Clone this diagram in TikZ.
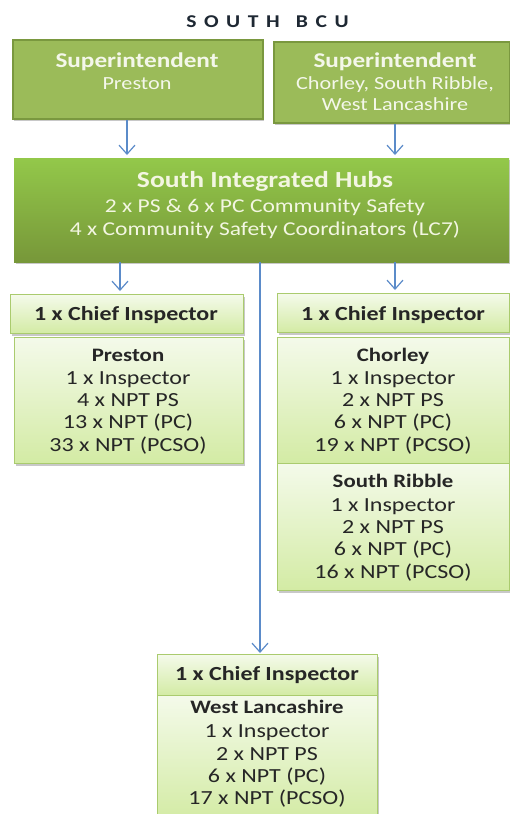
\documentclass[tikz,border=0pt]{standalone}
\usepackage{fontspec}
\setmainfont{Carlito}[FakeStretch=1.2]
\usetikzlibrary{arrows.meta,shadows}
\definecolor{supfill}{HTML}{9BBB59}
\definecolor{supline}{HTML}{7A983F}
\definecolor{suptext}{HTML}{F4F7EA}
\definecolor{hubtop}{HTML}{93C84A}
\definecolor{hubbot}{HTML}{779739}
\definecolor{hubtext}{HTML}{F3F6E2}
\definecolor{lighttop}{HTML}{F4FAEA}
\definecolor{lightbot}{HTML}{D3EBA4}
\definecolor{lightline}{HTML}{AACB6E}
\definecolor{darktext}{HTML}{262626}
\definecolor{titlecol}{HTML}{1E2833}
\definecolor{arrowcol}{HTML}{5B8BC9}
\tikzset{
  shad/.style={drop shadow={shadow xshift=1.5pt, shadow yshift=-2pt, opacity=0.3, fill=black!70}},
  supbox/.style={shad, rectangle, draw=supline, line width=1.5pt, fill=supfill, anchor=north west, inner sep=0pt},
  hubbox/.style={shad, rectangle, top color=hubtop, bottom color=hubbot, draw=none, anchor=north west, inner sep=0pt},
  lightbox/.style={shad, rectangle, top color=lighttop, bottom color=lightbot, draw=lightline, line width=1.2pt, anchor=north west, inner sep=0pt},
  txt/.style={anchor=base, inner sep=0pt},
  suphead/.style={txt, text=suptext, font=\fontsize{21}{24}\selectfont\bfseries},
  supsub/.style={txt, text=suptext, font=\fontsize{18.5}{22}\selectfont},
  hubhead/.style={txt, text=hubtext, font=\fontsize{23}{26}\selectfont\bfseries},
  hubsub/.style={txt, text=hubtext, font=\fontsize{19.6}{23}\selectfont},
  cihead/.style={txt, text=darktext, font=\fontsize{20}{23}\selectfont\bfseries},
  areahead/.style={txt, text=darktext, font=\fontsize{19}{22}\selectfont\bfseries},
  arealine/.style={txt, text=darktext, font=\fontsize{20}{23}\selectfont},
  arr/.style={draw=arrowcol, line width=1.3pt, -{Straight Barb[length=9pt,width=16pt,line width=1.2pt]}}
}
\begin{document}
\begin{tikzpicture}[x=1pt,y=-1pt]
\useasboundingbox[fill=white] (0,0) rectangle (510,814);

% title
\node[txt, text=titlecol, font=\fontsize{18}{20}\selectfont\bfseries\addfontfeature{LetterSpace=42}] (title) at (267.5,27) {SOUTH\hspace*{0.9em}BCU};

% top boxes
\node[supbox, minimum width=250pt, minimum height=79pt] (sup1) at (12,39) {};
\node[supbox, minimum width=236pt, minimum height=81pt] (sup2) at (273,41) {};
\node[suphead] (sup1a) at (137,67) {Superintendent};
\node[supsub]  (sup1b) at (137,89) {Preston};
\node[suphead] (sup2a) at (395,67) {Superintendent};
\node[supsub]  (sup2b) at (395,89) {Chorley, South Ribble,};
\node[supsub]  (sup2c) at (395,110) {West Lancashire};

% hub
\node[hubbox, minimum width=495pt, minimum height=104pt] (hub) at (14,158) {};
\node[hubhead] (huba) at (265,187) {South Integrated Hubs};
\node[hubsub]  (hubb) at (265,212) {2 x PS \& 6 x PC Community Safety};
\node[hubsub]  (hubc) at (265,235) {4 x Community Safety Coordinators (LC7)};

% left column
\node[lightbox, minimum width=233pt, minimum height=39pt] (ci1) at (10,294) {};
\node[lightbox, minimum width=229pt, minimum height=126pt] (pres) at (14,337) {};
\node[cihead] (ci1t) at (126,320) {1 x Chief Inspector};
\node[areahead] (pres0) at (128,361) {Preston};
\node[arealine] (pres1) at (128,384) {1 x Inspector};
\node[arealine] (pres2) at (128,406) {4 x NPT PS};
\node[arealine] (pres3) at (128,428) {13 x NPT (PC)};
\node[arealine] (pres4) at (128,451) {33 x NPT (PCSO)};

% right column
\node[lightbox, minimum width=232pt, minimum height=39pt] (ci2) at (277,293) {};
\node[lightbox, minimum width=232pt, minimum height=126pt] (chor) at (277,337) {};
\node[lightbox, minimum width=232pt, minimum height=127pt] (srib) at (277,463) {};
\node[cihead] (ci2t) at (393,320) {1 x Chief Inspector};
\node[areahead] (chor0) at (393,361) {Chorley};
\node[arealine] (chor1) at (393,384) {1 x Inspector};
\node[arealine] (chor2) at (393,406) {2 x NPT PS};
\node[arealine] (chor3) at (393,428) {6 x NPT (PC)};
\node[arealine] (chor4) at (393,451) {19 x NPT (PCSO)};
\node[areahead] (srib0) at (393,487) {South Ribble};
\node[arealine] (srib1) at (393,511) {1 x Inspector};
\node[arealine] (srib2) at (393,533) {2 x NPT PS};
\node[arealine] (srib3) at (393,555) {6 x NPT (PC)};
\node[arealine] (srib4) at (393,578) {16 x NPT (PCSO)};

% bottom column
\node[lightbox, minimum width=220pt, minimum height=41pt] (ci3) at (157,654) {};
\node[lightbox, minimum width=220pt, minimum height=125pt] (west) at (157,695) {};
\node[cihead] (ci3t) at (267,680) {1 x Chief Inspector};
\node[areahead] (west0) at (267,713) {West Lancashire};
\node[arealine] (west1) at (267,737) {1 x Inspector};
\node[arealine] (west2) at (267,760) {2 x NPT PS};
\node[arealine] (west3) at (267,782) {6 x NPT (PC)};
\node[arealine] (west4) at (267,804) {17 x NPT (PCSO)};

% connectors
\draw[arr, shorten >=3pt] (sup1.south -| 127,0) -- (hub.north -| 127,0);
\draw[arr, shorten >=3pt] (sup2.south -| 395,0) -- (hub.north -| 395,0);
\draw[arr, shorten >=3pt] (hub.south -| 120,0) -- (ci1.north -| 120,0);
\draw[arr, shorten >=3pt] (hub.south -| 395,0) -- (ci2.north -| 395,0);
\draw[arr, shorten >=1pt] (hub.south -| 260,0) -- (ci3.north -| 260,0);
\end{tikzpicture}
\end{document}
